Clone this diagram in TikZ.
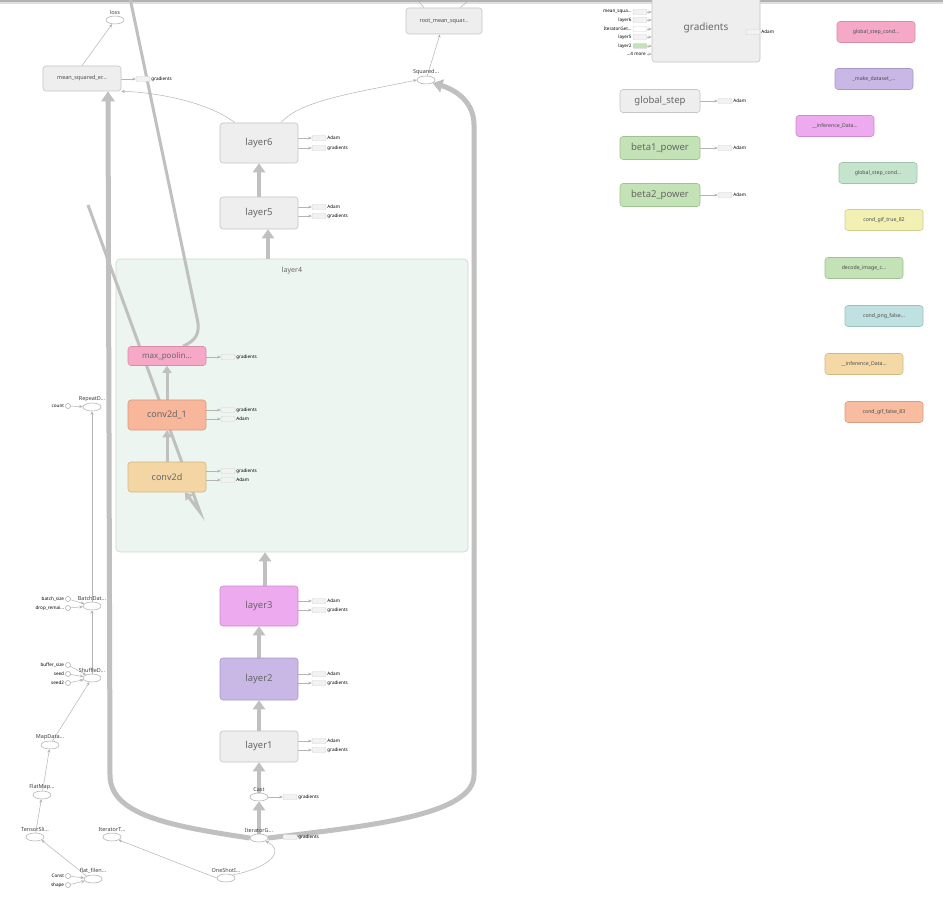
\documentclass[tikz,border=0pt]{standalone}
\usepackage{fontspec}
\setmainfont{Noto Sans}
\usetikzlibrary{arrows.meta,positioning,shapes.geometric}
\definecolor{boxfill}{HTML}{EEEEEE}
\definecolor{boxline}{HTML}{C4C4C4}
\definecolor{boxtext}{HTML}{666666}
\definecolor{opline}{HTML}{A8A8A8}
\definecolor{edgegray}{HTML}{B4B4B4}
\definecolor{flowgray}{HTML}{C0C0C0}
\definecolor{stubfill}{HTML}{F2F2F2}
\definecolor{stubline}{HTML}{D2D2D2}
\definecolor{grpfill}{HTML}{ECF5F0}
\definecolor{grpline}{HTML}{C9D9CF}
\definecolor{poolfill}{HTML}{F5A9C6}
\definecolor{poolline}{HTML}{D98CA9}
\definecolor{convAfill}{HTML}{F3D6A4}
\definecolor{convAline}{HTML}{D3B685}
\definecolor{convBfill}{HTML}{F8B79B}
\definecolor{convBline}{HTML}{D8997E}
\definecolor{violfill}{HTML}{EDAAEE}
\definecolor{violline}{HTML}{CC8CCD}
\definecolor{purpfill}{HTML}{C9B8E6}
\definecolor{purpline}{HTML}{A897C8}
\definecolor{grnfill}{HTML}{C3E2B5}
\definecolor{grnline}{HTML}{9FC292}
\definecolor{mintfill}{HTML}{C5E4CD}
\definecolor{mintline}{HTML}{A0C4A9}
\definecolor{yelfill}{HTML}{F2F0B3}
\definecolor{yelline}{HTML}{CFCD8F}
\definecolor{tealfill}{HTML}{C0E1E1}
\definecolor{tealline}{HTML}{9CBFBF}
\definecolor{tanfill}{HTML}{F4D9A7}
\definecolor{tanline}{HTML}{D2B886}
\definecolor{salfill}{HTML}{F8BCA0}
\definecolor{salline}{HTML}{D89C81}
\newcommand{\tdots}{...}
\pgfdeclarelayer{back}
\pgfdeclarelayer{edges}
\pgfsetlayers{back,edges,main}

\begin{document}
\begin{tikzpicture}[x=1pt, y=-1pt,
  box/.style={draw=boxline, fill=boxfill, rounded corners=3pt, line width=0.6pt,
              text=boxtext, inner sep=0pt, minimum width=78pt},
  layerbox/.style={box, minimum height=40pt, font=\fontsize{9.5}{11}\selectfont},
  smallbox/.style={box, minimum height=21pt, font=\fontsize{5.2}{6}\selectfont, text=black!70},
  op/.style={ellipse, draw=opline, fill=white, line width=0.5pt,
             minimum width=18pt, minimum height=8pt, inner sep=0pt},
  optxt/.style={font=\fontsize{5.5}{6}\selectfont, text=black!75, inner sep=1.2pt},
  inp/.style={circle, draw=opline, fill=white, line width=0.5pt, minimum size=5pt, inner sep=0pt},
  stub/.style={draw=stubline, fill=stubfill, rounded corners=1pt, line width=0.4pt,
               minimum width=14pt, minimum height=5pt, inner sep=0pt},
  tiny/.style={font=\fontsize{4.6}{5}\selectfont, inner sep=1pt},
  tb/.style={draw=edgegray, line width=0.5pt, -{Stealth[length=3.5pt,width=3pt]}},
  flow/.style={draw=flowgray, line width=4pt, -{Triangle[length=9pt,width=12pt]}},
  midflow/.style={draw=flowgray, line width=3pt},
  bigflow/.style={draw=flowgray, line width=5pt, -{Triangle[length=10pt,width=13pt]}}]
\useasboundingbox (0,0) rectangle (943,909);
\begin{pgfonlayer}{back}
  \fill[white] (0,0) rectangle (943,909);
  \fill[black!30] (0,0) rectangle (943,2);
  \fill[black!12] (0,2) rectangle (943,4);
  \node[draw=grpline, fill=grpfill, rounded corners=4pt, line width=0.6pt,
        minimum width=352pt, minimum height=293pt] (l4) at (292,405.5) {};
\end{pgfonlayer}
\node[font=\fontsize{7}{8}\selectfont, text=boxtext, below=5pt] (l4lab) at (l4.north) {layer4};

% main column
\node[layerbox] (l6) at (259,143) {layer6};
\node[layerbox, minimum height=32pt] (l5) at (259,213) {layer5};
\node[box, fill=poolfill, draw=poolline, minimum height=19pt,
      font=\fontsize{8}{9}\selectfont, text=black!60] (mp) at (167,356) {max\_poolin\tdots};
\node[box, fill=convBfill, draw=convBline, minimum height=30pt,
      font=\fontsize{9}{10}\selectfont, text=black!60] (c2d1) at (167,415) {conv2d\_1};
\node[box, fill=convAfill, draw=convAline, minimum height=30pt,
      font=\fontsize{9}{10}\selectfont, text=black!60] (c2d) at (167,477) {conv2d};
\node[layerbox, fill=violfill, draw=violline] (l3) at (259,606) {layer3};
\node[layerbox, fill=purpfill, draw=purpline, minimum height=42pt] (l2) at (259,679) {layer2};
\node[layerbox, minimum height=31pt] (l1) at (259,746.5) {layer1};
\node[op, label={[optxt]above:Cast}] (cast) at (259,797) {};
\node[op, label={[optxt]above:IteratorG\tdots}] (itg) at (259,838) {};
\node[op, label={[optxt]above:OneShotI\tdots}] (osi) at (226,878) {};
\node[op, label={[optxt]above:IteratorT\tdots}] (itt) at (112,837) {};

% loss side
\node[box, minimum height=25pt, font=\fontsize{5.5}{6}\selectfont, text=black!70] (msq) at (82,78.5) {mean\_squared\_er\tdots};
\node[op, label={[optxt]above:loss}] (loss) at (115,20) {};
\node[box, minimum width=76pt, minimum height=26pt, font=\fontsize{5.5}{6}\selectfont, text=black!70] (rmse) at (444,21) {root\_mean\_squar\tdots};
\node[op, label={[optxt]above:Squared\tdots}] (sq) at (426,80) {};
\coordinate (rmseupA) at (416,-2);
\coordinate (rmseupB) at (472,-2);

% input pipeline
\node[op, label={[optxt]above:RepeatD\tdots}] (rep) at (92,407) {};
\node[op, label={[optxt]above:BatchDat\tdots}] (bat) at (92,606) {};
\node[op, label={[optxt]above:ShuffleD\tdots}] (shuf) at (92,678) {};
\node[op, label={[optxt]above:MapData\tdots}] (mapd) at (50,745) {};
\node[op, label={[optxt]above:FlatMap\tdots}] (fmap) at (42,795) {};
\node[op, label={[optxt]above:TensorSli\tdots}] (tsl) at (35,837) {};
\node[op, label={[optxt]above:flat\_filen\tdots}] (ff) at (93,879) {};
\foreach \nm/\iy/\lab/\dst in {cnt/406/count/rep, bsz/599/batch\_size/bat, drp/608/drop\_remai\tdots/bat,
    buf/665/buffer\_size/shuf, sd/674/seed/shuf, sdb/683/seed2/shuf, cst/876/Const/ff, shp/885/shape/ff} {
  \node[inp, label={[tiny]left:\lab}] (\nm) at (68,\iy) {};
  \begin{pgfonlayer}{edges}
    \draw[tb] (\nm) -- (\dst);
  \end{pgfonlayer}
}

% gradients / optimizer
\node[box, minimum width=108pt, minimum height=68pt, font=\fontsize{10}{11}\selectfont] (grad) at (706,28) {gradients};
\node[box, minimum width=80pt, minimum height=23pt, font=\fontsize{9.5}{10}\selectfont] (gstep) at (660,101) {global\_step};
\node[box, fill=grnfill, draw=grnline, minimum width=80pt, minimum height=23pt,
      font=\fontsize{9.5}{10}\selectfont] (b1) at (660,148) {beta1\_power};
\node[box, fill=grnfill, draw=grnline, minimum width=80pt, minimum height=23pt,
      font=\fontsize{9.5}{10}\selectfont] (b2) at (660,195) {beta2\_power};
\foreach \lab/\gy/\gc [count=\k] in {mean\_squa\tdots/12/stubfill, layer6/20/stubfill,
    IteratorGet\tdots/29/white, layer5/37/stubfill, layer2/46/grnfill} {
  \node[stub, fill=\gc] (gin\k) at (640,\gy) {};
  \node[tiny, anchor=east] (ginl\k) at (gin\k.west) {\lab};
  \begin{pgfonlayer}{edges}
    \draw[tb] (gin\k.east) -- (gin\k -| grad.west);
  \end{pgfonlayer}
}
\node[tiny, anchor=east] (gmore) at (647,54) {\tdots 4 more};
\draw[tb] (gmore.east) -- (gmore -| grad.west);

% stubs to the right of nodes
\foreach \src/\sx/\sy/\lab [count=\k] in {l6/319/138/Adam, l6/319/148/gradients,
    l5/319/207/Adam, l5/319/216/gradients, mp/228/357/gradients,
    c2d1/228/410/gradients, c2d1/228/419/Adam, c2d/228/471/gradients, c2d/228/480/Adam,
    l3/319/601/Adam, l3/319/610/gradients, l2/319/674/Adam, l2/319/683/gradients,
    l1/319/741/Adam, l1/319/750/gradients, cast/290/797/gradients, itg/290/837/gradients,
    msq/143/79/gradients, grad/753/32/Adam, gstep/725/101/Adam, b1/725/148/Adam, b2/725/195/Adam} {
  \node[stub] (stub\k) at (\sx,\sy) {};
  \node[tiny, anchor=west] (stubl\k) at (stub\k.east) {\lab};
  \begin{pgfonlayer}{edges}
    \draw[tb] (\src.east |- stub\k) -- (stub\k.west);
  \end{pgfonlayer}
}

% unconnected series
\foreach \nm/\cx/\cy/\fc/\lc/\lab in {
    gsca/876/32/poolfill/poolline/global\_step\_cond\tdots,
    mkds/874/79/purpfill/purpline/\_make\_dataset\_\tdots,
    infa/835/126/violfill/violline/\_\_inference\_Data\tdots,
    gscb/878/173/mintfill/mintline/global\_step\_cond\tdots,
    cgt/884/220/yelfill/yelline/cond\_gif\_true\_82,
    dec/864/268/grnfill/grnline/decode\_image\_c\tdots,
    cpf/884/316/tealfill/tealline/cond\_png\_false\tdots,
    infb/864/364/tanfill/tanline/\_\_inference\_Data\tdots,
    cgf/884/412/salfill/salline/cond\_gif\_false\_83} {
  \node[smallbox, fill=\fc, draw=\lc] (\nm) at (\cx,\cy) {\lab};
}

\coordinate (mpup) at (130,-2);
\coordinate (c2dfrom) at (88,205);
\coordinate (c2dturn) at (200,512);

\begin{pgfonlayer}{edges}
  % dataflow up the network
  \draw[flow] (itg) -- (cast);
  \draw[flow] (cast) -- (l1);
  \draw[flow] (l1) -- (l2);
  \draw[flow] (l2) -- (l3);
  \draw[flow] ([xshift=6pt]l3.north) -- ([xshift=6pt]l3.north |- l4.south);
  \draw[flow] ([xshift=9pt]l5.south |- l4.north) -- ([xshift=9pt]l5.south);
  \draw[flow] (l5) -- (l6);
  \draw[midflow, -{Triangle[length=7pt,width=9pt]}] (c2d) -- (c2d1);
  \draw[midflow, -{Triangle[length=7pt,width=9pt]}] (c2d1) -- (mp);
  \draw[midflow] (mpup) -- (197,318) .. controls (201,334) and (195,341) .. ([xshift=16pt]mp.north);
  \draw[midflow, -{Triangle[length=7pt,width=9pt]}] (c2dfrom) -- (c2dturn) -- ([xshift=18pt]c2d.south);
  \draw[bigflow] (itg.west) .. controls (170,826) and (110,815) .. (110,775) -- ([xshift=26pt]msq.south);
  \draw[bigflow] (itg.east) .. controls (370,826) and (474,815) .. (474,775) -- (474,125)
    .. controls (474,102) and (456,90) .. (sq.south east);
  % thin edges
  \draw[tb] (msq.north) -- (loss);
  \draw[tb] (sq) -- (rmse);
  \draw[edgegray, line width=0.5pt] ([xshift=-20pt]rmse.north) .. controls (420,3) .. (rmseupA);
  \draw[edgegray, line width=0.5pt] ([xshift=16pt]rmse.north) .. controls (466,3) .. (rmseupB);
  \draw[tb] ([xshift=-24pt]l6.north) .. controls (205,100) and (150,92) .. (msq.south east);
  \draw[tb] ([xshift=22pt]l6.north) .. controls (300,100) and (360,92) .. (sq.west);
  \draw[tb] (bat) -- (rep);
  \draw[tb] (shuf) -- (bat);
  \draw[tb] (mapd) -- (shuf);
  \draw[tb] (fmap) -- (mapd);
  \draw[tb] (tsl) -- (fmap);
  \draw[tb] (ff.north west) -- (tsl.south east);
  \draw[tb] (osi.west) .. controls (185,866) and (145,850) .. (itt.south east);
  \draw[tb] (osi.north east) .. controls (268,868) and (286,852) .. (itg.south east);
\end{pgfonlayer}
\end{tikzpicture}
\end{document}
